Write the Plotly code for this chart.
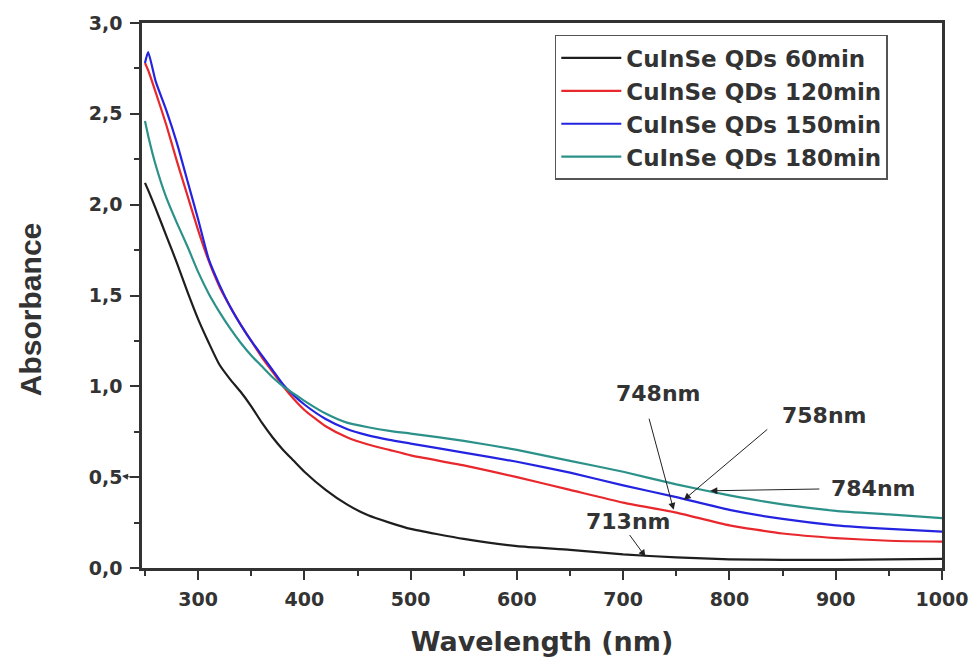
import plotly.graph_objects as go

wavelength = [250, 253, 260, 270, 280, 290, 300, 310, 320, 330, 340, 350, 360, 370, 380, 390,
              400, 420, 440, 460, 480, 500, 550, 600, 650, 700, 750, 800, 850, 900, 950, 1000]

abs_60 = [2.12, 2.08, 1.98, 1.83, 1.68, 1.52, 1.37, 1.24, 1.12, 1.04, 0.97, 0.89, 0.80, 0.72, 0.65, 0.59,
          0.53, 0.43, 0.35, 0.29, 0.25, 0.215, 0.16, 0.12, 0.10, 0.075, 0.058, 0.048, 0.045, 0.045, 0.047, 0.05]
abs_120 = [2.78, 2.74, 2.62, 2.44, 2.24, 2.05, 1.86, 1.69, 1.55, 1.44, 1.34, 1.25, 1.16, 1.08, 1.00, 0.93,
           0.87, 0.78, 0.72, 0.68, 0.65, 0.62, 0.565, 0.50, 0.43, 0.36, 0.305, 0.235, 0.19, 0.165, 0.15, 0.145]
abs_150 = [2.78, 2.84, 2.68, 2.52, 2.34, 2.13, 1.92, 1.70, 1.56, 1.44, 1.34, 1.25, 1.17, 1.09, 1.01, 0.95,
           0.90, 0.82, 0.765, 0.73, 0.705, 0.685, 0.635, 0.585, 0.525, 0.455, 0.39, 0.32, 0.27, 0.235, 0.215, 0.20]
abs_180 = [2.46, 2.38, 2.22, 2.04, 1.90, 1.77, 1.63, 1.51, 1.41, 1.32, 1.24, 1.17, 1.11, 1.05, 1.00, 0.96,
           0.92, 0.85, 0.80, 0.775, 0.755, 0.74, 0.70, 0.65, 0.59, 0.53, 0.46, 0.40, 0.35, 0.315, 0.295, 0.275]

series_names = ["CuInSe QDs 60min", "CuInSe QDs 120min", "CuInSe QDs 150min", "CuInSe QDs 180min"]
series_values = [abs_60, abs_120, abs_150, abs_180]
series_colors = ["#1e1e1e", "#e8282c", "#2424e0", "#2b9189"]

x_tick_vals = [300, 400, 500, 600, 700, 800, 900, 1000]
x_minor_vals = [250, 350, 450, 550, 650, 750, 850, 950]

# annotations: label, text position (x, y), arrow head (x, y), arrow tail (x, y)
ann_labels = ["748nm", "758nm", "784nm", "713nm"]
ann_text_xy = [(733, 0.96), (889, 0.84), (936, 0.44), (705, 0.255)]
ann_head_xy = [(747.5, 0.32), (757, 0.375), (782, 0.425), (721, 0.062)]
ann_tail_xy = [(724, 0.83), (837, 0.77), (886, 0.435), (705, 0.19)]

WIDE = "DejaVu Sans, Verdana, sans-serif"
NARROW = "Liberation Sans, Arial, sans-serif"
TXT = "#333333"

fig = go.Figure()
for name, vals, col in zip(series_names, series_values, series_colors):
    fig.add_trace(go.Scatter(x=wavelength, y=vals, mode="lines", name=name,
                             line=dict(color=col, width=2.2, shape="spline", smoothing=0.5)))

for lab, t, h, tl in zip(ann_labels, ann_text_xy, ann_head_xy, ann_tail_xy):
    fig.add_annotation(x=t[0], y=t[1], text=lab, showarrow=False,
                       font=dict(family=WIDE, size=22, color=TXT, weight="bold"))
    fig.add_annotation(x=h[0], y=h[1], ax=tl[0], ay=tl[1], axref="x", ayref="y",
                       text="", showarrow=True, arrowhead=2, arrowsize=1.4,
                       arrowwidth=1, arrowcolor="#222222")

# small stray arrow mark next to the 0,5 label
fig.add_annotation(x=-0.025, y=0.5 / 3.0 + 0.002, xref="paper", yref="paper",
                   ax=10, ay=1, text="", showarrow=True, arrowhead=2,
                   arrowsize=1.2, arrowwidth=1, arrowcolor="#333333")

# y-axis title
fig.add_annotation(x=-0.14, y=0.475, xref="paper", yref="paper", text="Absorbance",
                   textangle=-90, showarrow=False, xanchor="center", yanchor="middle",
                   font=dict(family=NARROW, size=30, color=TXT, weight="bold"))

fig.update_layout(
    width=972, height=657,
    margin=dict(l=142, r=30, t=23, b=89),
    paper_bgcolor="white", plot_bgcolor="white",
    separators=",.",
    showlegend=True,
    legend=dict(x=0.516, y=0.978, xanchor="left", yanchor="top",
                bgcolor="white", bordercolor="#555555", borderwidth=1.5,
                font=dict(family=WIDE, size=23, color=TXT, weight="bold"),
                itemwidth=60, tracegroupgap=0),
    xaxis=dict(range=[247.2, 1000], tickmode="array", tickvals=x_tick_vals,
               ticks="outside", ticklen=9, tickwidth=2, tickcolor="#333",
               minor=dict(tickmode="array", tickvals=x_minor_vals,
                          ticks="outside", ticklen=5, tickwidth=2, tickcolor="#333"),
               showline=True, linewidth=2.5, linecolor="#333", mirror=True,
               showgrid=False, zeroline=False, automargin=False,
               ticklabeloverflow="allow", ticklabelstandoff=3,
               tickfont=dict(family=WIDE, size=19, color=TXT, weight="bold"),
               title=dict(text="Wavelength (nm)", standoff=30,
                          font=dict(family=WIDE, size=27, color=TXT, weight="bold"))),
    yaxis=dict(range=[0, 3.0], tickmode="linear", tick0=0, dtick=0.5, tickformat=".1f",
               ticks="outside", ticklen=9, tickwidth=2, tickcolor="#333",
               minor=dict(dtick=0.25, ticks="outside", ticklen=5, tickwidth=2, tickcolor="#333"),
               showline=True, linewidth=2.5, linecolor="#333", mirror=True,
               showgrid=False, zeroline=False, automargin=False,
               ticklabelstandoff=4,
               tickfont=dict(family=WIDE, size=19, color=TXT, weight="bold")),
)

fig.write_html("out.html", config={"displayModeBar": False},
               post_script="document.body.style.margin='0';document.body.style.overflow='hidden';")
